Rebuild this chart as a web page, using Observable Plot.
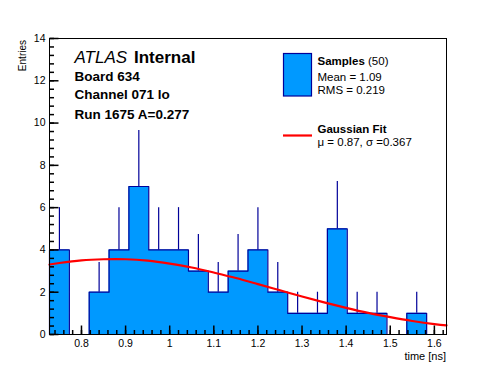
<!DOCTYPE html>
<html><head><meta charset="utf-8">
<script src="https://cdn.jsdelivr.net/npm/d3@7"></script>
<script src="https://cdn.jsdelivr.net/npm/@observablehq/plot@0.6"></script>
<style>
html,body{margin:0;padding:0;background:#fff;}
#chart{position:relative;width:496px;height:372px;}
</style></head><body><div id="chart"></div>
<script>
// ---- data ----
const binEdges = [0.7275, 0.7725, 0.8175, 0.8625, 0.9075, 0.9525, 0.9975, 1.0425, 1.0875, 1.1325,
                  1.1775, 1.2225, 1.2675, 1.3125, 1.3575, 1.4025, 1.4475, 1.4925, 1.5375, 1.5825, 1.6275];
const counts   = [4, 0, 2, 4, 7, 4, 4, 3, 2, 3, 4, 2, 1, 1, 5, 1, 1, 0, 1, 0];
const errTops  = [6, 0, 3.41, 6, 9.65, 6, 6, 4.73, 3.41, 4.73, 6, 3.41, 2, 2, 7.24, 2, 2, 0, 2, 0];
const fitX = [0.7275, 0.75, 0.80, 0.85, 0.90, 0.95, 1.00, 1.05, 1.10, 1.15, 1.20, 1.25, 1.30, 1.35, 1.40, 1.45, 1.50, 1.55, 1.60, 1.6275];
const fitY = [3.31, 3.38, 3.51, 3.56, 3.56, 3.49, 3.35, 3.17, 2.93, 2.67, 2.38, 2.09, 1.80, 1.52, 1.26, 1.02, 0.82, 0.64, 0.49, 0.43];
const xTicks = [0.8, 0.9, 1, 1.1, 1.2, 1.3, 1.4, 1.5, 1.6];
const yTicks = [0, 2, 4, 6, 8, 10, 12, 14];
const xMinor = d3.range(37, 82).map(k => +(k * 0.02).toFixed(2));
const yMinor = d3.range(0, 36).map(k => +(k * 0.4).toFixed(1));

const FILL = "#0099ff", NAVY = "#000099", RED = "#ff0000";

const bins = counts.map((n, i) => ({x1: binEdges[i], x2: binEdges[i + 1], n, err: errTops[i]}));
const outline = [{x: binEdges[0], y: 0}]
  .concat(counts.map((n, i) => ({x: binEdges[i], y: n})))
  .concat([{x: binEdges[binEdges.length - 1], y: 0}]);
const fit = fitX.map((x, i) => ({x, y: fitY[i]}));

const tickUp = {draw(ctx, size) { const l = Math.sqrt(size / Math.PI); ctx.moveTo(0, 0); ctx.lineTo(0, -l); }};
const tickRight = {draw(ctx, size) { const l = Math.sqrt(size / Math.PI); ctx.moveTo(0, 0); ctx.lineTo(l, 0); }};

const svg = Plot.plot({
  width: 496, height: 372,
  marginLeft: 49, marginRight: 50, marginTop: 38, marginBottom: 38,
  style: {fontFamily: "'Liberation Sans', Arial, sans-serif", fontSize: "10.5px", color: "black", background: "white"},
  x: {domain: [binEdges[0], binEdges[binEdges.length - 1]], label: null},
  y: {domain: [0, 14], label: null},
  marks: [
    Plot.areaY(outline, {x: "x", y: "y", curve: "step-after", fill: FILL}),
    Plot.line(outline, {x: "x", y: "y", curve: "step-after", stroke: NAVY, strokeWidth: 1.2}),
    Plot.ruleX(bins.filter(d => d.n > 0), {x: d => (d.x1 + d.x2) / 2, y1: "n", y2: "err", stroke: NAVY, strokeWidth: 1.2}),
    Plot.line(fit, {x: "x", y: "y", curve: "natural", stroke: RED, strokeWidth: 2.2}),
    Plot.dot(xMinor, {x: d => d, frameAnchor: "bottom", r: 4.5, symbol: tickUp, stroke: "black", fill: "none"}),
    Plot.dot(xTicks, {x: d => d, frameAnchor: "bottom", r: 9, symbol: tickUp, stroke: "black", fill: "none"}),
    Plot.dot(yMinor, {y: d => d, frameAnchor: "left", r: 4.5, symbol: tickRight, stroke: "black", fill: "none"}),
    Plot.dot(yTicks, {y: d => d, frameAnchor: "left", r: 9, symbol: tickRight, stroke: "black", fill: "none"}),
    Plot.axisX({ticks: xTicks, tickSize: 0, tickPadding: 5.5, label: null, tickFormat: d => String(d)}),
    Plot.axisY({ticks: yTicks, tickSize: 0, tickPadding: 4, label: null, tickFormat: d => String(d)}),
    Plot.frame({stroke: "black"})
  ]
});
document.getElementById("chart").appendChild(svg);

// ---- annotations (real text) ----
const s = d3.select(svg);
const FF = "'Liberation Sans', Arial, sans-serif";
function txt(x, y, size, weight, str, anchor) {
  return s.append("text").attr("x", x).attr("y", y).attr("font-family", FF)
    .attr("font-size", size).attr("font-weight", weight || "normal")
    .attr("text-anchor", anchor || "start").attr("fill", "black").text(str);
}
s.append("text").attr("transform", "translate(25.5,40) rotate(-90)").attr("text-anchor", "end")
  .attr("font-family", FF).attr("font-size", 10).attr("fill", "black").text("Entries");
txt(446, 359.5, 11, "normal", "time [ns]", "end");

const t1 = s.append("text").attr("x", 74.5).attr("y", 63.3).attr("text-anchor", "start")
  .attr("font-family", FF).attr("font-size", 17).attr("fill", "black");
t1.append("tspan").attr("x", 74.5).attr("font-style", "italic").text("ATLAS");
t1.append("tspan").attr("x", 134).attr("font-weight", "bold").text("Internal");
txt(74.5, 80.7, 13.5, "bold", "Board 634");
txt(74.5, 99.3, 13.5, "bold", "Channel 071 lo");
txt(74.5, 118.7, 13.5, "bold", "Run 1675 A=0.277");

s.append("rect").attr("x", 283.5).attr("y", 53.5).attr("width", 28).attr("height", 42.5)
  .attr("fill", FILL).attr("stroke", NAVY).attr("stroke-width", 1.2);
const t2 = s.append("text").attr("x", 317.5).attr("y", 65).attr("text-anchor", "start")
  .attr("font-family", FF).attr("font-size", 11.5).attr("fill", "black");
t2.append("tspan").attr("font-weight", "bold").text("Samples");
t2.append("tspan").text(" (50)");
txt(317.5, 80.7, 11.5, "normal", "Mean = 1.09");
txt(317.5, 94, 11.5, "normal", "RMS = 0.219");
s.append("line").attr("x1", 283).attr("x2", 312).attr("y1", 135.5).attr("y2", 135.5)
  .attr("stroke", RED).attr("stroke-width", 2.2);
txt(317.5, 132.7, 11.5, "bold", "Gaussian Fit");
txt(317.5, 145.5, 11.5, "normal", "\u03bc = 0.87, \u03c3 =0.367");
</script></body></html>
